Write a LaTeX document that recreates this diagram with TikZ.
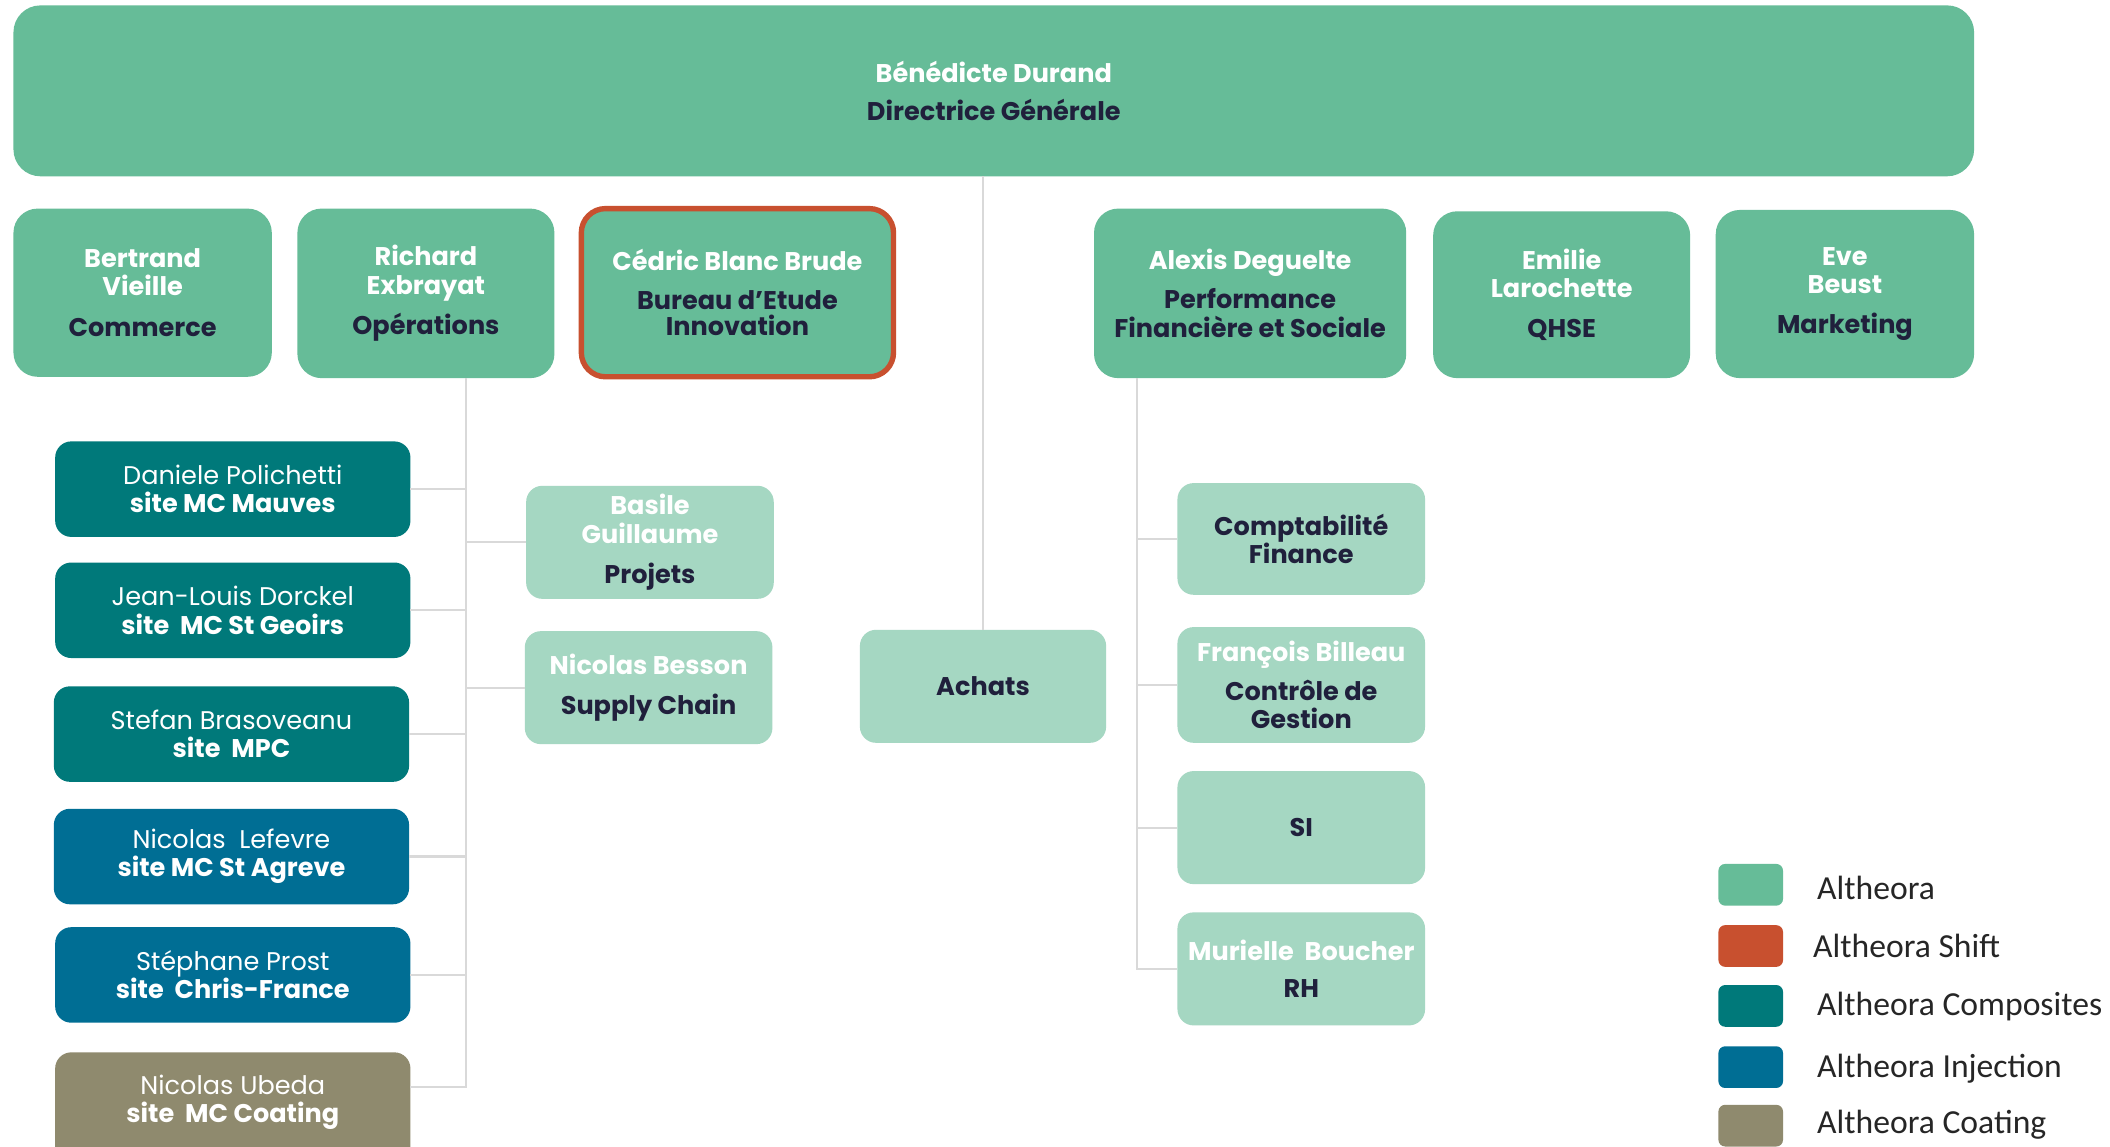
\documentclass[tikz,border=0pt]{standalone}
\usepackage{fontspec}
\setmainfont{Poppins}
\newfontfamily\legfont{Carlito}
\usetikzlibrary{calc}
\definecolor{altg}{HTML}{66BC98}
\definecolor{altl}{HTML}{A5D7C2}
\definecolor{compc}{HTML}{00797A}
\definecolor{injc}{HTML}{006E94}
\definecolor{coatc}{HTML}{8F8A6E}
\definecolor{shiftc}{HTML}{C8502F}
\definecolor{ink}{HTML}{20203C}
\definecolor{wire}{HTML}{D9D9D9}
\newcommand\wname[1]{\textcolor{white}{#1}}
\begin{document}
\begin{tikzpicture}[x=0.5pt,y=-0.5pt,
  box/.style={inner sep=0pt, outer sep=0pt, align=center,
    font=\fontsize{9.5}{10.5}\selectfont\bfseries, text=ink},
  sz/.style 2 args={minimum width=#1*0.5pt, minimum height=#2*0.5pt},
  head/.style={box, fill=altg, rounded corners=9pt},
  sub/.style={box, fill=altl, rounded corners=6pt},
  site/.style={box, rounded corners=6pt, text=white, sz={264}{71},
    font=\fontsize{9.5}{10.5}\selectfont},
  wireline/.style={draw=wire, line width=0.8pt},
  swatch/.style={rounded corners=2.5pt, inner sep=0pt, outer sep=0pt, sz={48}{31}},
  legtext/.style={anchor=west, inner sep=0pt, font=\legfont\fontsize{12.5}{14}\selectfont, text=black!85}
]
\clip (0,0) rectangle (1568,852);
\fill[white] (0,0) rectangle (1568,852);

% top
\node[head, rounded corners=10pt, sz={1457}{127}] (top) at (738.5,67.5)
  {\wname{Bénédicte Durand}\\[3.5pt] Directrice Générale};

% second row
\node[head, sz={192}{125}] (bert) at (106,217.5)
  {\wname{Bertrand}\\ \wname{Vieille}\\[4.5pt] Commerce};
\node[head, sz={191}{126}] (rich) at (316.5,218)
  {\wname{Richard}\\ \wname{Exbrayat}\\[4.5pt] Opérations};
\node[head, draw=shiftc, line width=2pt, sz={232}{125}] (cedr) at (548,217.5)
  {\wname{Cédric Blanc Brude}\\[4pt] Bureau d'Etude\\[-1pt] Innovation};
\node[head, sz={232}{126}] (alex) at (929,218)
  {\wname{Alexis Deguelte}\\[4pt] Performance\\ Financière et Sociale};
\node[head, sz={191}{124}] (emil) at (1160.5,219)
  {\wname{Emilie}\\ \wname{Larochette}\\[4.5pt] QHSE};
\node[head, sz={192}{125}] (eve) at (1371,218.5)
  {\wname{Eve}\\ \wname{Beust}\\[4.5pt] Marketing};

% sites
\node[site, fill=compc] (dani) at (173,363.5) {Daniele Polichetti\\ \textbf{site MC Mauves}};
\node[site, fill=compc] (jean) at (173,453.5) {Jean-Louis Dorckel\\ \textbf{site\ \ MC St Geoirs}};
\node[site, fill=compc] (stef) at (172,545.5) {Stefan Brasoveanu\\ \textbf{site\ \ MPC}};
\node[site, fill=injc] (lefe) at (172,636.5) {Nicolas\ \ Lefevre\\ \textbf{site MC St Agreve}};
\node[site, fill=injc] (stph) at (173,724.5) {Stéphane Prost\\ \textbf{site\ \ Chris-France}};
\node[site, fill=coatc, sz={264}{90}, text depth=0pt] (ubed) at (173,827)
  {Nicolas Ubeda\\ \textbf{site\ \ MC Coating}\\ \strut};

% middle
\node[sub, sz={184}{84}] (basi) at (483,403)
  {\wname{Basile}\\ \wname{Guillaume}\\[4.5pt] Projets};
\node[sub, sz={184}{84}] (bess) at (482,511)
  {\wname{Nicolas Besson}\\[4pt] Supply Chain};
\node[sub, sz={183}{84}] (acha) at (730.5,510) {Achats};

% right
\node[sub, sz={184}{83}] (comp) at (967,400.5) {Comptabilité\\ Finance};
\node[sub, sz={184}{86}] (fran) at (967,509)
  {\wname{François Billeau}\\[4pt] Contrôle de\\ Gestion};
\node[sub, sz={184}{84}] (si) at (967,615) {SI};
\node[sub, sz={184}{84}] (muri) at (967,720)
  {\wname{Murielle\ \ Boucher}\\[3.5pt] RH};

% connectors
\draw[wireline] (acha.north |- top.south) -- (acha.north);

\coordinate (rtop) at (346,281);
\coordinate (rbot) at (346,808);
\draw[wireline] (rtop) -- (rbot) -- (rbot -| ubed.east);
\draw[wireline] (dani.east) -- (dani.east -| rtop);
\draw[wireline] (jean.east) -- (jean.east -| rtop);
\draw[wireline] (stef.east) -- (stef.east -| rtop);
\draw[wireline] (lefe.east) -- (lefe.east -| rtop);
\draw[wireline] (stph.east) -- (stph.east -| rtop);
\draw[wireline] (basi.west) -- (basi.west -| rtop);
\draw[wireline] (bess.west) -- (bess.west -| rtop);

\coordinate (atop) at (845,281);
\draw[wireline] (atop) -- (atop |- muri.west) -- (muri.west);
\draw[wireline] (comp.west) -- (comp.west -| atop);
\draw[wireline] (fran.west) -- (fran.west -| atop);
\draw[wireline] (si.west) -- (si.west -| atop);

% legend
\node[swatch, fill=altg] (lg1) at (1301,657.5) {};
\node[swatch, fill=shiftc] (lg2) at (1301,703) {};
\node[swatch, fill=compc] (lg3) at (1301,747.5) {};
\node[swatch, fill=injc] (lg4) at (1301,793) {};
\node[swatch, fill=coatc] (lg5) at (1301,836.5) {};
\node[legtext] (lt1) at (1350,660) {Altheora};
\node[legtext] (lt2) at (1347,703) {Altheora Shift};
\node[legtext] (lt3) at (1350,748) {Altheora Composites};
\node[legtext] (lt4) at (1350,794) {Altheora Injection};
\node[legtext] (lt5) at (1350,836) {Altheora Coating};
\end{tikzpicture}
\end{document}
